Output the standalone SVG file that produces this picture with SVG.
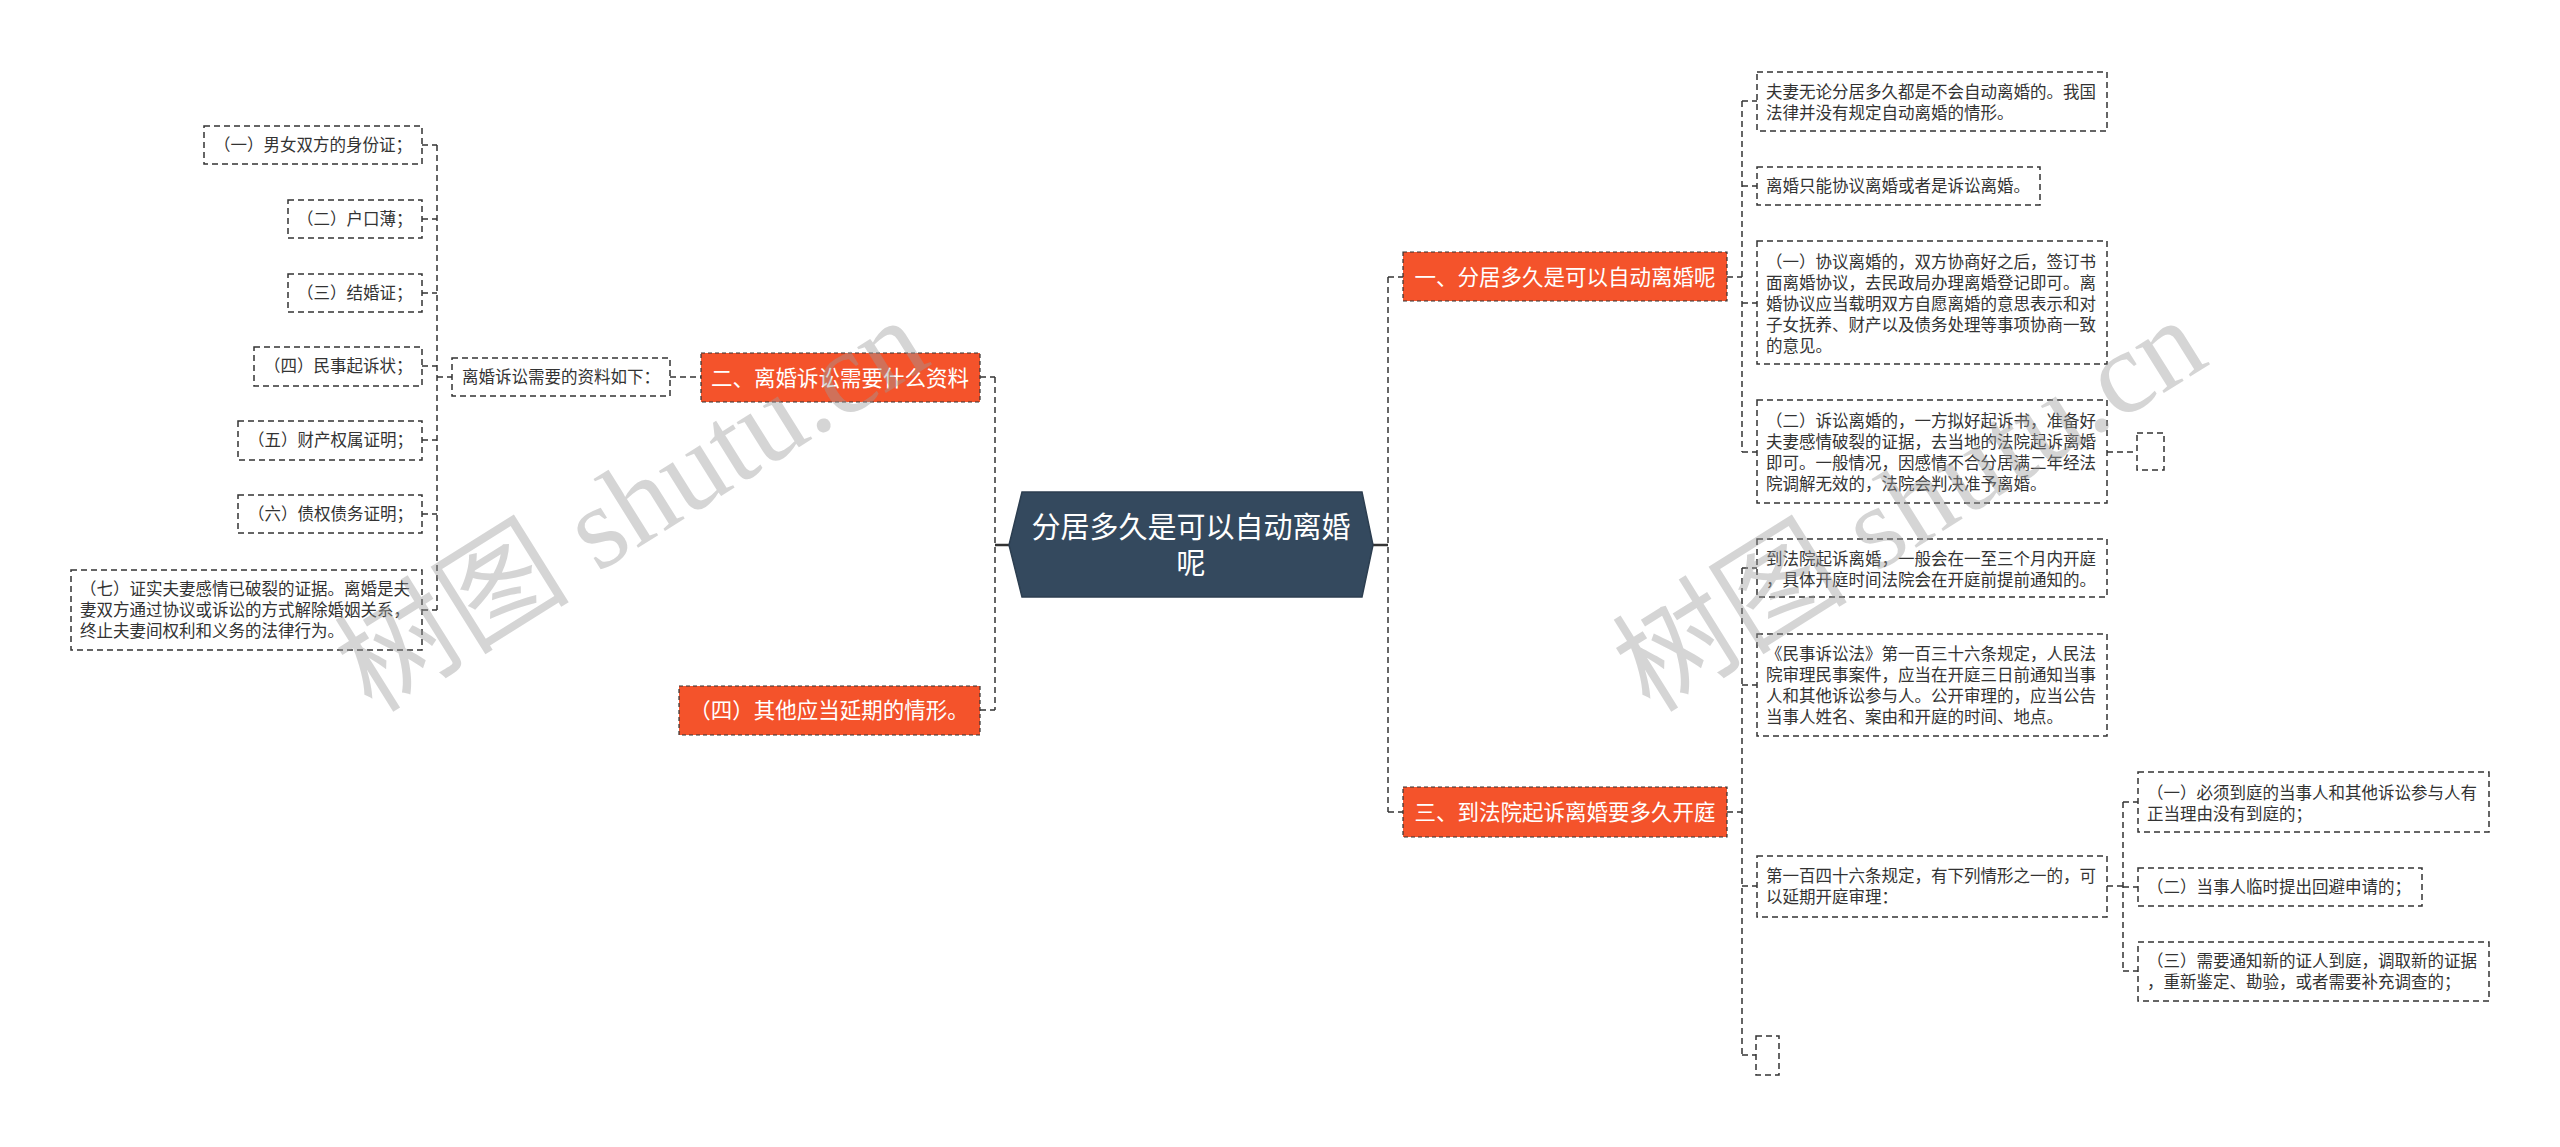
<svg xmlns="http://www.w3.org/2000/svg" width="2560" height="1147" viewBox="0 0 2560 1147">
<style>
.bg{fill:#ffffff}
.box{fill:#ffffff;stroke:#333333;stroke-width:1.5;stroke-dasharray:6 4}
.org{fill:#F4532B;stroke:#333333;stroke-width:1.2;stroke-dasharray:4 3}
.root{fill:#34495E;stroke:#2C3E50;stroke-width:1.5}
.t{font-family:"Noto Sans CJK SC","Noto Sans",sans-serif;font-size:16.5px;fill:#333333}
.ot{font-family:"Noto Sans CJK SC","Noto Sans",sans-serif;font-size:21.5px;fill:#ffffff;text-anchor:middle}
.rt{font-family:"Noto Sans CJK SC","Noto Sans",sans-serif;font-size:29px;fill:#ffffff;text-anchor:middle}
.c{fill:none;stroke:#333333;stroke-width:1.5;stroke-dasharray:6 4}
.cs{fill:none;stroke:#333333;stroke-width:2.5}
.wm{font-family:"Liberation Serif","Noto Sans CJK SC",serif;font-size:118px;fill:#9a9a9a;fill-opacity:0.42}
</style>
<rect class="bg" x="0" y="0" width="2560" height="1147"/>

<g id="connectors">
  <path class="cs" d="M995,545 H1009"/>
  <path class="c" d="M995,377 V710"/>
  <path class="c" d="M980,377 H995 M980,710 H995"/>
  <path class="cs" d="M1373,545 H1388"/>
  <path class="c" d="M1388,277 V812"/>
  <path class="c" d="M1388,277 H1403 M1388,812 H1403"/>
  <path class="c" d="M670,377 H701"/>
  <path class="c" d="M437,377 H452"/>
  <path class="c" d="M437,145 V610"/>
  <path class="c" d="M422,145 H437 M422,219 H437 M422,293 H437 M422,366 H437 M422,440 H437 M422,514 H437 M422,610 H437"/>
  <path class="c" d="M1727,277 H1742"/>
  <path class="c" d="M1742,101 V452"/>
  <path class="c" d="M1742,101 H1757 M1742,186 H1757 M1742,303 H1757 M1742,452 H1757"/>
  <path class="c" d="M2107,452 H2137"/>
  <path class="c" d="M1727,812 H1742"/>
  <path class="c" d="M1742,568 V1055"/>
  <path class="c" d="M1742,568 H1757 M1742,685 H1757 M1742,886 H1757 M1742,1055 H1756"/>
  <path class="c" d="M2107,886 H2123"/>
  <path class="c" d="M2123,802 V971"/>
  <path class="c" d="M2123,802 H2138 M2123,887 H2138 M2123,971 H2138"/>
</g>

<g id="root">
  <polygon class="root" points="1022,492 1362,492 1373,545 1362,597 1022,597 1009,545"/>
  <text class="rt" x="1191" y="538">分居多久是可以自动离婚</text>
  <text class="rt" x="1191" y="574">呢</text>
</g>

<g id="n1">
  <rect class="org" x="1403" y="252" width="324" height="49"/>
  <text class="ot" x="1565" y="285">一、分居多久是可以自动离婚呢</text>
</g>
<g id="n2">
  <rect class="org" x="701" y="353" width="279" height="49"/>
  <text class="ot" x="840" y="386">二、离婚诉讼需要什么资料</text>
</g>
<g id="n3">
  <rect class="org" x="1403" y="787" width="324" height="50"/>
  <text class="ot" x="1565" y="820">三、到法院起诉离婚要多久开庭</text>
</g>
<g id="n4">
  <rect class="org" x="679" y="686" width="301" height="49"/>
  <text class="ot" x="829" y="718">（四）其他应当延期的情形。</text>
</g>

<g id="m0">
  <rect class="box" x="452" y="358" width="218" height="38"/>
  <text class="t" x="462" y="383">离婚诉讼需要的资料如下：</text>
</g>
<g id="m1">
  <rect class="box" x="204" y="126" width="218" height="38"/>
  <text class="t" x="214" y="151">（一）男女双方的身份证；</text>
</g>
<g id="m2">
  <rect class="box" x="288" y="200" width="134" height="38"/>
  <text class="t" x="297" y="225">（二）户口薄；</text>
</g>
<g id="m3">
  <rect class="box" x="288" y="274" width="134" height="38"/>
  <text class="t" x="297" y="299">（三）结婚证；</text>
</g>
<g id="m4">
  <rect class="box" x="254" y="347" width="168" height="39"/>
  <text class="t" x="264" y="372">（四）民事起诉状；</text>
</g>
<g id="m5">
  <rect class="box" x="238" y="421" width="184" height="39"/>
  <text class="t" x="248" y="446">（五）财产权属证明；</text>
</g>
<g id="m6">
  <rect class="box" x="238" y="495" width="184" height="38"/>
  <text class="t" x="248" y="520">（六）债权债务证明；</text>
</g>
<g id="m7">
  <rect class="box" x="71" y="570" width="351" height="80"/>
  <text class="t" x="80" y="595">（七）证实夫妻感情已破裂的证据。离婚是夫</text>
  <text class="t" x="80" y="616">妻双方通过协议或诉讼的方式解除婚姻关系，</text>
  <text class="t" x="80" y="637">终止夫妻间权利和义务的法律行为。</text>
</g>

<g id="r1">
  <rect class="box" x="1757" y="72" width="350" height="59"/>
  <text class="t" x="1766" y="98">夫妻无论分居多久都是不会自动离婚的。我国</text>
  <text class="t" x="1766" y="119">法律并没有规定自动离婚的情形。</text>
</g>
<g id="r2">
  <rect class="box" x="1757" y="167" width="283" height="38"/>
  <text class="t" x="1766" y="192">离婚只能协议离婚或者是诉讼离婚。</text>
</g>
<g id="r3">
  <rect class="box" x="1757" y="241" width="350" height="123"/>
  <text class="t" x="1766" y="268">（一）协议离婚的，双方协商好之后，签订书</text>
  <text class="t" x="1766" y="289">面离婚协议，去民政局办理离婚登记即可。离</text>
  <text class="t" x="1766" y="310">婚协议应当载明双方自愿离婚的意思表示和对</text>
  <text class="t" x="1766" y="331">子女抚养、财产以及债务处理等事项协商一致</text>
  <text class="t" x="1766" y="352">的意见。</text>
</g>
<g id="r4">
  <rect class="box" x="1757" y="400" width="350" height="103"/>
  <text class="t" x="1766" y="427">（二）诉讼离婚的，一方拟好起诉书，准备好</text>
  <text class="t" x="1766" y="448">夫妻感情破裂的证据，去当地的法院起诉离婚</text>
  <text class="t" x="1766" y="469">即可。一般情况，因感情不合分居满二年经法</text>
  <text class="t" x="1766" y="490">院调解无效的，法院会判决准予离婚。</text>
</g>
<g id="r4e">
  <rect class="box" x="2137" y="433" width="27" height="37"/>
</g>

<g id="s1">
  <rect class="box" x="1757" y="539" width="350" height="58"/>
  <text class="t" x="1766" y="565">到法院起诉离婚，一般会在一至三个月内开庭</text>
  <text class="t" x="1766" y="586">，具体开庭时间法院会在开庭前提前通知的。</text>
</g>
<g id="s2">
  <rect class="box" x="1757" y="634" width="350" height="102"/>
  <text class="t" x="1766" y="660">《民事诉讼法》第一百三十六条规定，人民法</text>
  <text class="t" x="1766" y="681">院审理民事案件，应当在开庭三日前通知当事</text>
  <text class="t" x="1766" y="702">人和其他诉讼参与人。公开审理的，应当公告</text>
  <text class="t" x="1766" y="723">当事人姓名、案由和开庭的时间、地点。</text>
</g>
<g id="s3">
  <rect class="box" x="1757" y="856" width="350" height="61"/>
  <text class="t" x="1766" y="882">第一百四十六条规定，有下列情形之一的，可</text>
  <text class="t" x="1766" y="903">以延期开庭审理：</text>
</g>
<g id="s4">
  <rect class="box" x="1756" y="1036" width="23" height="39"/>
</g>
<g id="s3a">
  <rect class="box" x="2138" y="772" width="351" height="60"/>
  <text class="t" x="2147" y="799">（一）必须到庭的当事人和其他诉讼参与人有</text>
  <text class="t" x="2147" y="820">正当理由没有到庭的；</text>
</g>
<g id="s3b">
  <rect class="box" x="2138" y="868" width="284" height="38"/>
  <text class="t" x="2147" y="893">（二）当事人临时提出回避申请的；</text>
</g>
<g id="s3c">
  <rect class="box" x="2138" y="942" width="351" height="59"/>
  <text class="t" x="2147" y="967">（三）需要通知新的证人到庭，调取新的证据</text>
  <text class="t" x="2147" y="988">，重新鉴定、勘验，或者需要补充调查的；</text>
</g>

<g id="watermarks">
  <text class="wm" transform="translate(372,714) rotate(-32)">树图 shutu.cn</text>
  <text class="wm" transform="translate(1650,714) rotate(-32)">树图 shutu.cn</text>
</g>
</svg>
